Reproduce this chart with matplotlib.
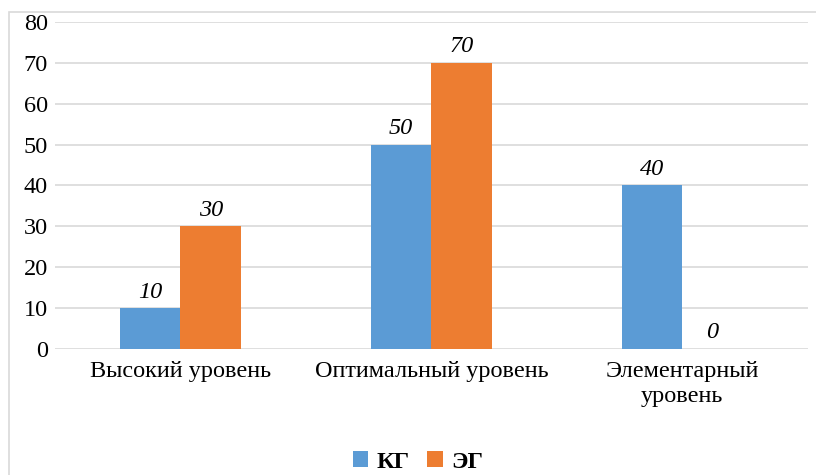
import matplotlib
matplotlib.use("Agg")
import matplotlib.pyplot as plt
from matplotlib.patches import Rectangle, Patch
import numpy as np

categories = ["Высокий уровень", "Оптимальный уровень", "Элементарный\nуровень"]
series_names = ["КГ", "ЭГ"]
kg_values = [10, 50, 40]
eg_values = [30, 70, 0]
y_ticks = [0, 10, 20, 30, 40, 50, 60, 70, 80]

colors = ["#5B9BD5", "#ED7D31"]
grid_color = "#D9D9D9"
font = "Liberation Serif"
fsize = 17.5

fig = plt.figure(figsize=(8.16, 4.75), dpi=100)
ax = fig.add_axes([0.0674, 0.2653, 0.9226, 0.6884])

x = np.arange(len(categories))
width = 0.241
for i, (vals, name) in enumerate(zip([kg_values, eg_values], series_names)):
    offs = (i - 0.5) * width
    ax.bar(x + offs, vals, width, color=colors[i], label=name, zorder=3)
    for xb, v in zip(x + offs, vals):
        ax.annotate(f"{v}", (xb, v), xytext=(0, 4), textcoords="offset points",
                    ha="center", va="bottom", fontsize=fsize, fontstyle="italic",
                    family=font, color="black", zorder=4)

ax.set_xlim(-0.5, len(categories) - 0.5)
ax.set_ylim(0, 80)
ax.set_yticks(y_ticks)
ax.set_yticklabels([str(t) for t in y_ticks], family=font, fontsize=fsize)
ax.set_xticks(x)
ax.set_xticklabels(categories, family=font, fontsize=fsize, linespacing=1.2)
ax.tick_params(axis="x", length=0, pad=9)
ax.tick_params(axis="y", length=0, pad=5)
ax.yaxis.grid(True, color=grid_color, linewidth=1.2, zorder=0)
for s in ax.spines.values():
    s.set_visible(False)

# chart area frame (top and left edges visible)
fig.patches.append(Rectangle((9 / 816, -0.1), 1.2, 0.1 + (1 - 12 / 475),
                             transform=fig.transFigure, fill=False,
                             edgecolor=grid_color, linewidth=1.2))

handles = [Patch(facecolor=c, label=n) for c, n in zip(colors, series_names)]
fig.legend(handles=handles, loc="center", bbox_to_anchor=(418 / 816, 1 - 462 / 475),
           ncol=2, frameon=False, handlelength=0.65, handleheight=0.65,
           handletextpad=0.35, columnspacing=0.7,
           prop={"family": font, "size": fsize, "weight": "bold"})

fig.savefig("out.png", dpi=100)
